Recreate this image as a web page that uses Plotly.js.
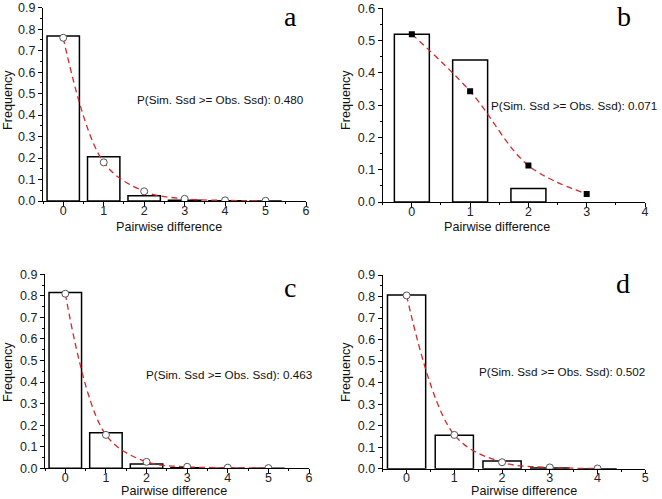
<!DOCTYPE html>
<html>
<head>
<meta charset="utf-8">
<script src="https://cdn.plot.ly/plotly-3.0.1.min.js"></script>
<style>html,body{margin:0;padding:0;background:#fff;}#chart{width:662px;height:499px;}</style>
</head>
<body>
<div id="chart"></div>
<script>
// Panel a
const catsA = [0, 1, 2, 3, 4, 5];
const obsA = [0.768, 0.206, 0.025, 0.003, 0.001, 0.0];
const simA = [0.760, 0.180, 0.045, 0.010, 0.003, 0.001];
const pA = "P(Sim. Ssd >= Obs. Ssd): 0.480";
// Panel b
const catsB = [0, 1, 2];
const obsB = [0.520, 0.440, 0.042];
const simCatsB = [0, 1, 2, 3];
const simB = [0.520, 0.343, 0.113, 0.025];
const pB = "P(Sim. Ssd >= Obs. Ssd): 0.071";
// Panel c
const catsC = [0, 1, 2, 3, 4, 5];
const obsC = [0.815, 0.165, 0.020, 0.002, 0.0, 0.0];
const simC = [0.810, 0.155, 0.030, 0.007, 0.003, 0.001];
const pC = "P(Sim. Ssd >= Obs. Ssd): 0.463";
// Panel d
const catsD = [0, 1, 2, 3, 4];
const obsD = [0.807, 0.155, 0.036, 0.003, 0.0];
const simD = [0.805, 0.157, 0.030, 0.006, 0.001];
const pD = "P(Sim. Ssd >= Obs. Ssd): 0.502";

const panelLetters = ["a", "b", "c", "d"];
const xTitle = "Pairwise difference";
const yTitle = "Frequency";

const red = "rgb(214,40,40)";
function barTrace(x, y, w, xa, ya) {
  return {type: "bar", x: x, y: y, width: w, xaxis: xa, yaxis: ya,
    marker: {color: "white", line: {color: "black", width: 1.5}}, showlegend: false, hoverinfo: "skip"};
}
function lineTrace(x, y, xa, ya, sym) {
  const m = sym === "square"
    ? {symbol: "square", size: 6, color: "black", line: {color: "black", width: 0}}
    : {symbol: "circle", size: 7, color: "white", line: {color: "#555", width: 1}};
  return {type: "scatter", mode: "lines+markers", x: x, y: y, xaxis: xa, yaxis: ya,
    line: {color: red, width: 1.3, dash: "6px,4px", shape: "spline", smoothing: 1}, marker: m, showlegend: false};
}

const data = [
  barTrace(catsA, obsA, 0.8, "x", "y"), lineTrace(catsA, simA, "x5", "y", "circle"),
  barTrace(catsB, obsB, 0.6, "x2", "y2"), lineTrace(simCatsB, simB, "x6", "y2", "square"),
  barTrace(catsC, obsC, 0.8, "x3", "y3"), lineTrace(catsC, simC, "x7", "y3", "circle"),
  barTrace(catsD, obsD, 0.8, "x4", "y4"), lineTrace(catsD, simD, "x8", "y4", "circle")
];

const tickFont = {family: "Liberation Sans, Arial, sans-serif", size: 12.5, color: "#222"};
// main x axis: line, major and minor ticks, no labels
function xax(domain, range, anchor) {
  return {domain: domain, range: range, anchor: anchor, dtick: 1, tick0: 0, showgrid: false, zeroline: false,
    showline: true, linecolor: "black", linewidth: 1, ticks: "outside", ticklen: 4, tickcolor: "black",
    showticklabels: false,
    minor: {dtick: 0.5, tick0: 0, ticks: "outside", ticklen: 2, tickcolor: "black"},
    fixedrange: true};
}
// overlay x axis: labels only, sitting closer to the axis line
function xlab(base, range, anchor) {
  return {overlaying: base, matches: base, range: range, anchor: anchor, side: "bottom", dtick: 1, tick0: 0,
    showgrid: false, zeroline: false, showline: false, ticks: "", showticklabels: true,
    tickfont: tickFont, fixedrange: true};
}
function yax(domain, range, anchor) {
  return {domain: domain, range: range, anchor: anchor, dtick: 0.1, tick0: 0, tickformat: ".1f", showgrid: false,
    zeroline: false, showline: true, linecolor: "black", linewidth: 1, ticks: "outside", ticklen: 4, tickcolor: "black",
    minor: {dtick: 0.05, tick0: 0, ticks: "outside", ticklen: 2, tickcolor: "black"},
    tickfont: tickFont, fixedrange: true};
}

const W = 662, H = 499;
function px(x) { return x / W; }
function py(y) { return 1 - y / H; }

const letterFont = {family: "Liberation Serif, Times New Roman, serif", size: 28, color: "black"};
const annFont = {family: "Liberation Sans, Arial, sans-serif", size: 11.7, color: "#111"};
const titleFont = {family: "Liberation Sans, Arial, sans-serif", size: 12.6, color: "#111"};

function ann(text, x, y, font, extra) {
  return Object.assign({text: text, x: px(x), y: py(y), xref: "paper", yref: "paper", showarrow: false,
    xanchor: "center", yanchor: "middle", font: font}, extra || {});
}

const annotations = [
  ann(panelLetters[0], 290, 0, letterFont, {yanchor: "top", borderpad: 0}),
  ann(panelLetters[1], 624, 0, letterFont, {yanchor: "top", borderpad: 0}),
  ann(panelLetters[2], 290, 287, letterFont),
  ann(panelLetters[3], 623, 283, letterFont),
  ann(pA, 220, 100, annFont),
  ann(pB, 574, 105, annFont),
  ann(pC, 229, 374, annFont),
  ann(pD, 562, 371, annFont),
  ann(xTitle, 169, 227, titleFont),
  ann(xTitle, 497, 227, titleFont),
  ann(xTitle, 174, 491, titleFont),
  ann(xTitle, 524, 491, titleFont),
  ann(yTitle, 8, 100, titleFont, {textangle: -90}),
  ann(yTitle, 346, 100, titleFont, {textangle: -90}),
  ann(yTitle, 8, 372, titleFont, {textangle: -90}),
  ann(yTitle, 346, 372, titleFont, {textangle: -90})
];

const rA = [-0.5, 6], rB = [-0.5, 4], rC = [-0.5, 6], rD = [-0.5, 5];
const layout = {
  width: W, height: H, margin: {l: 0, r: 0, t: 0, b: 0}, paper_bgcolor: "white", plot_bgcolor: "white",
  bargap: 0,
  xaxis: xax([px(43), px(306)], rA, "y"),
  yaxis: yax([py(201), py(7.7)], [0, 0.9], "x"),
  xaxis2: xax([px(382.7), px(645)], rB, "y2"),
  yaxis2: yax([py(202), py(8.3)], [0, 0.6], "x2"),
  xaxis3: xax([px(45), px(309)], rC, "y3"),
  yaxis3: yax([py(468.3), py(274.3)], [0, 0.9], "x3"),
  xaxis4: xax([px(382.7), px(645.3)], rD, "y4"),
  yaxis4: yax([py(468.7), py(275)], [0, 0.9], "x4"),
  xaxis5: xlab("x", rA, "y"),
  xaxis6: xlab("x2", rB, "y2"),
  xaxis7: xlab("x3", rC, "y3"),
  xaxis8: xlab("x4", rD, "y4"),
  annotations: annotations
};

Plotly.newPlot("chart", data, layout, {displayModeBar: false, staticPlot: true});
</script>
</body>
</html>
